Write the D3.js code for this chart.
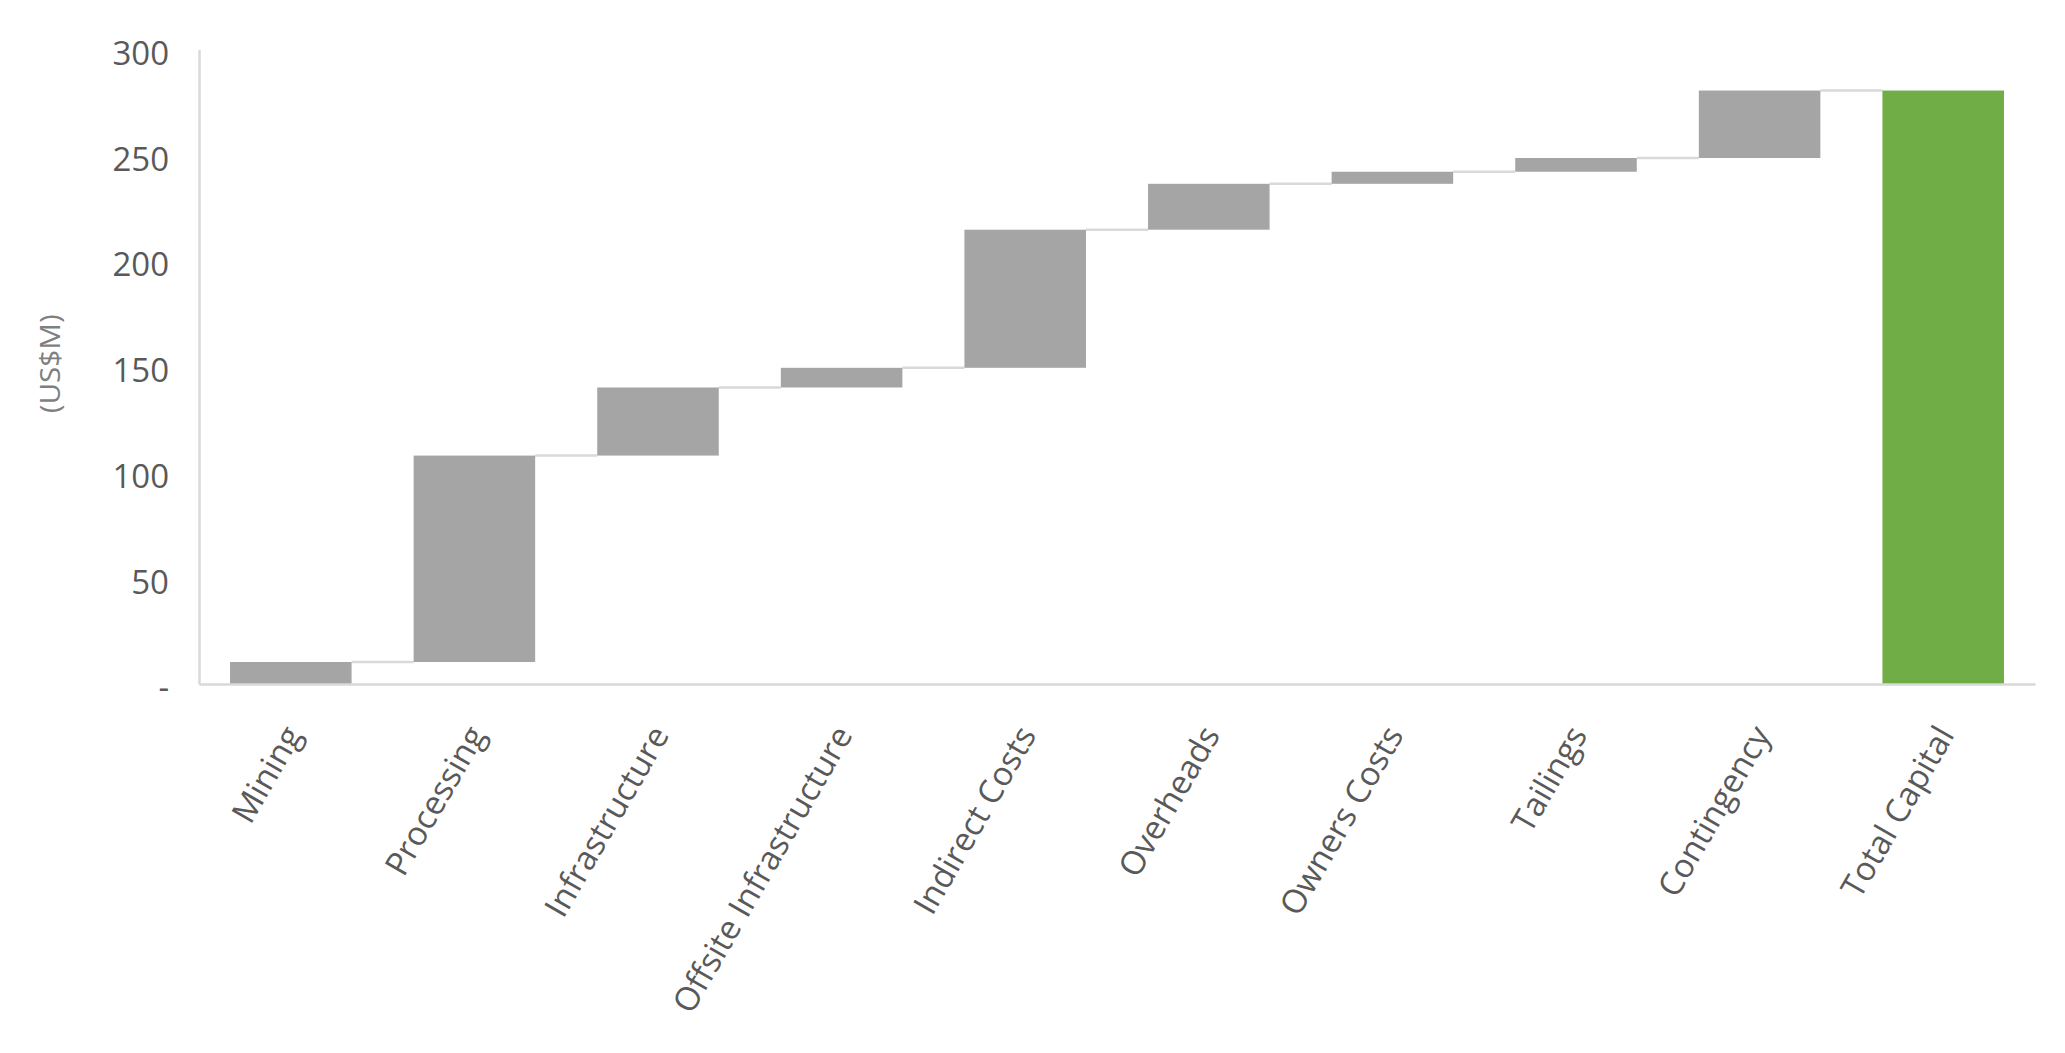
<!DOCTYPE html>
<html>
<head>
<meta charset="utf-8">
<script src="https://cdn.jsdelivr.net/npm/d3@7"></script>
<style>
  body { margin: 0; background: #fff; }
  text { font-family: "Open Sans", "Noto Sans", sans-serif; }
</style>
</head>
<body>
<script>
// capital cost build-up, US$M
var categories = ["Mining", "Processing", "Infrastructure", "Offsite Infrastructure",
  "Indirect Costs", "Overheads", "Owners Costs", "Tailings", "Contingency", "Total Capital"];
var increments = [10.4, 97.6, 32.2, 9.3, 65.3, 21.7, 5.7, 6.5, 31.9];
var yTicks = [0, 50, 100, 150, 200, 250, 300];

window.onload = function(){
  var w = 2065, h = 1053;
  var left = 199, right = 2035, top = 49.5, bottom = 684;

  var svg = d3.select("body").append("svg")
    .attr("width", w)
    .attr("height", h);

  // running totals -> start/end of each floating bar
  var rows = [], run = 0;
  increments.forEach(function(v, i){
    rows.push({ name: categories[i], y0: run, y1: run + v, total: false });
    run += v;
  });
  rows.push({ name: categories[categories.length - 1], y0: 0, y1: run, total: true });

  var x = d3.scaleBand()
    .domain(categories)
    .range([left, right])
    .paddingInner(0.338)
    .paddingOuter(0.169);

  var y = d3.scaleLinear()
    .domain([0, 300])
    .range([bottom, top]);

  // y axis
  var yAxis = svg.append("g")
    .attr("transform", "translate(" + left + ",0)")
    .call(d3.axisLeft(y).tickValues(yTicks).tickSize(0).tickPadding(30)
      .tickFormat(function(d){ return d === 0 ? "-" : d; }));
  yAxis.select(".domain").attr("stroke", "#d9d9d9").attr("stroke-width", 2.5);
  yAxis.selectAll("text")
    .attr("fill", "#595959")
    .attr("dy", "0.45em")
    .style("font-size", "33px");

  // connectors between bars
  svg.append("g").selectAll("line")
    .data(rows.slice(0, rows.length - 1))
    .enter().append("line")
    .attr("x1", function(d){ return x(d.name) + x.bandwidth(); })
    .attr("x2", function(d, i){ return x(rows[i + 1].name); })
    .attr("y1", function(d){ return y(d.y1); })
    .attr("y2", function(d){ return y(d.y1); })
    .attr("stroke", "#d9d9d9")
    .attr("stroke-width", 2.5);

  // bars
  svg.append("g").selectAll("rect")
    .data(rows)
    .enter().append("rect")
    .attr("x", function(d){ return x(d.name); })
    .attr("width", x.bandwidth())
    .attr("y", function(d){ return y(d.y1); })
    .attr("height", function(d){ return y(d.y0) - y(d.y1); })
    .attr("fill", function(d){ return d.total ? "#70ad47" : "#a5a5a5"; });

  // x axis
  var xAxis = svg.append("g")
    .attr("transform", "translate(0," + bottom + ")")
    .call(d3.axisBottom(x).tickSize(0).tickSizeOuter(0).tickFormat(""));
  xAxis.select(".domain").attr("stroke", "#d9d9d9").attr("stroke-width", 2.5);

  svg.append("g").selectAll("text")
    .data(categories)
    .enter().append("text")
    .attr("transform", function(d){
      return "translate(" + (x(d) + x.bandwidth() / 2 + 2) + "," + (bottom + 45) + ") rotate(-60)";
    })
    .attr("text-anchor", "end")
    .attr("dy", "0.35em")
    .attr("fill", "#595959")
    .style("font-size", "33px")
    .text(function(d){ return d; });

  // axis title
  svg.append("text")
    .attr("transform", "translate(60," + ((top + bottom) / 2 - 3) + ") rotate(-90)")
    .attr("text-anchor", "middle")
    .attr("fill", "#7f7f7f")
    .attr("textLength", 99)
    .attr("lengthAdjust", "spacingAndGlyphs")
    .style("font-size", "28px")
    .text("(US$M)");
};
</script>
</body>
</html>
